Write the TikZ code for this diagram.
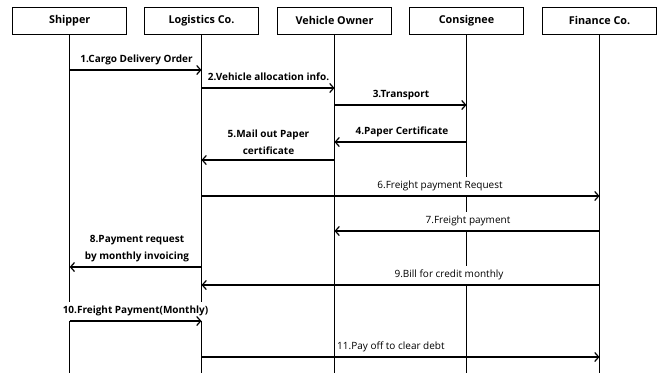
\documentclass[tikz,border=0pt]{standalone}
\usepackage{fontspec}
\setmainfont{Open Sans}
\usetikzlibrary{arrows.meta}
\begin{document}
\begin{tikzpicture}[x=1pt,y=-1pt,
  hdr/.style={draw,line width=1.3pt,minimum width=114pt,minimum height=27pt,inner sep=0pt,font=\fontsize{10.8}{12}\selectfont\bfseries},
  life/.style={line width=1.2pt},
  msg/.style={line width=1.2pt,-{Straight Barb[length=4pt,width=9pt,line width=1.2pt]}},
  lblb/.style={fill=white,inner xsep=1pt,inner ysep=0pt,minimum height=19pt,text height=7.5pt,text depth=2.5pt,anchor=south,font=\fontsize{10}{12}\selectfont\bfseries},
  lblr/.style={fill=white,inner xsep=1pt,inner ysep=0pt,minimum height=19pt,text height=7.5pt,text depth=2.5pt,anchor=south,font=\fontsize{10}{12}\selectfont},
  lbl2/.style={align=center,inner sep=0pt,font=\fontsize{10}{17.5}\selectfont\bfseries}]
\useasboundingbox (0,0) rectangle (663,376);
\node[hdr] (s) at (69.7,20.8) {Shipper};
\node[hdr] (l) at (201.5,20.8) {Logistics Co.};
\node[hdr] (v) at (334.5,20.8) {Vehicle Owner};
\node[hdr] (c) at (466.5,20.8) {Consignee};
\node[hdr] (f) at (599.5,20.8) {Finance Co.};
\foreach \n in {s,l,v,c,f}{
  \coordinate (\n end) at (\n.south |- 0,373);
  \draw[life] (\n.south) -- (\n end);
}
% labels
\node[lblb] (t1) at (136.5,70) {1.Cargo Delivery Order};
\node[lblb] (t2) at (268.5,88) {2.Vehicle allocation info.};
\node[lblb] (t3) at (401,105) {3.Transport};
\node[lblb] (t4) at (402,142) {4.Paper Certificate};
\node[lbl2] (t5) at (268.5,142) {5.Mail out Paper\\certificate};
\node[lblr] (t6) at (440,196) {6.Freight payment Request};
\node[lblr] (t7) at (468,231) {7.Freight payment};
\node[lbl2] (t8) at (137,248.5) {8.Payment request\\by monthly invoicing};
\node[lblr] (t9) at (449,285) {9.Bill for credit monthly};
\node[lblb] (t10) at (135.5,321) {10.Freight Payment(Monthly)};
\node[lblr,anchor=south west] (t11) at (336,357) {11.Pay off to clear debt};
% messages
\draw[msg] (s |- 0,70) -- (l |- 0,70);
\draw[msg] (l |- 0,88) -- (v |- 0,88);
\draw[msg] (v |- 0,105) -- (c |- 0,105);
\draw[msg] (c |- 0,142) -- (v |- 0,142);
\draw[msg] (v |- 0,160) -- (l |- 0,160);
\draw[msg] (l |- 0,196) -- (f |- 0,196);
\draw[msg] (f |- 0,231) -- (v |- 0,231);
\draw[msg] (l |- 0,267) -- (s |- 0,267);
\draw[msg] (f |- 0,285) -- (l |- 0,285);
\draw[msg] (s |- 0,321) -- (l |- 0,321);
\draw[msg] (l |- 0,357) -- (f |- 0,357);
\end{tikzpicture}
\end{document}
